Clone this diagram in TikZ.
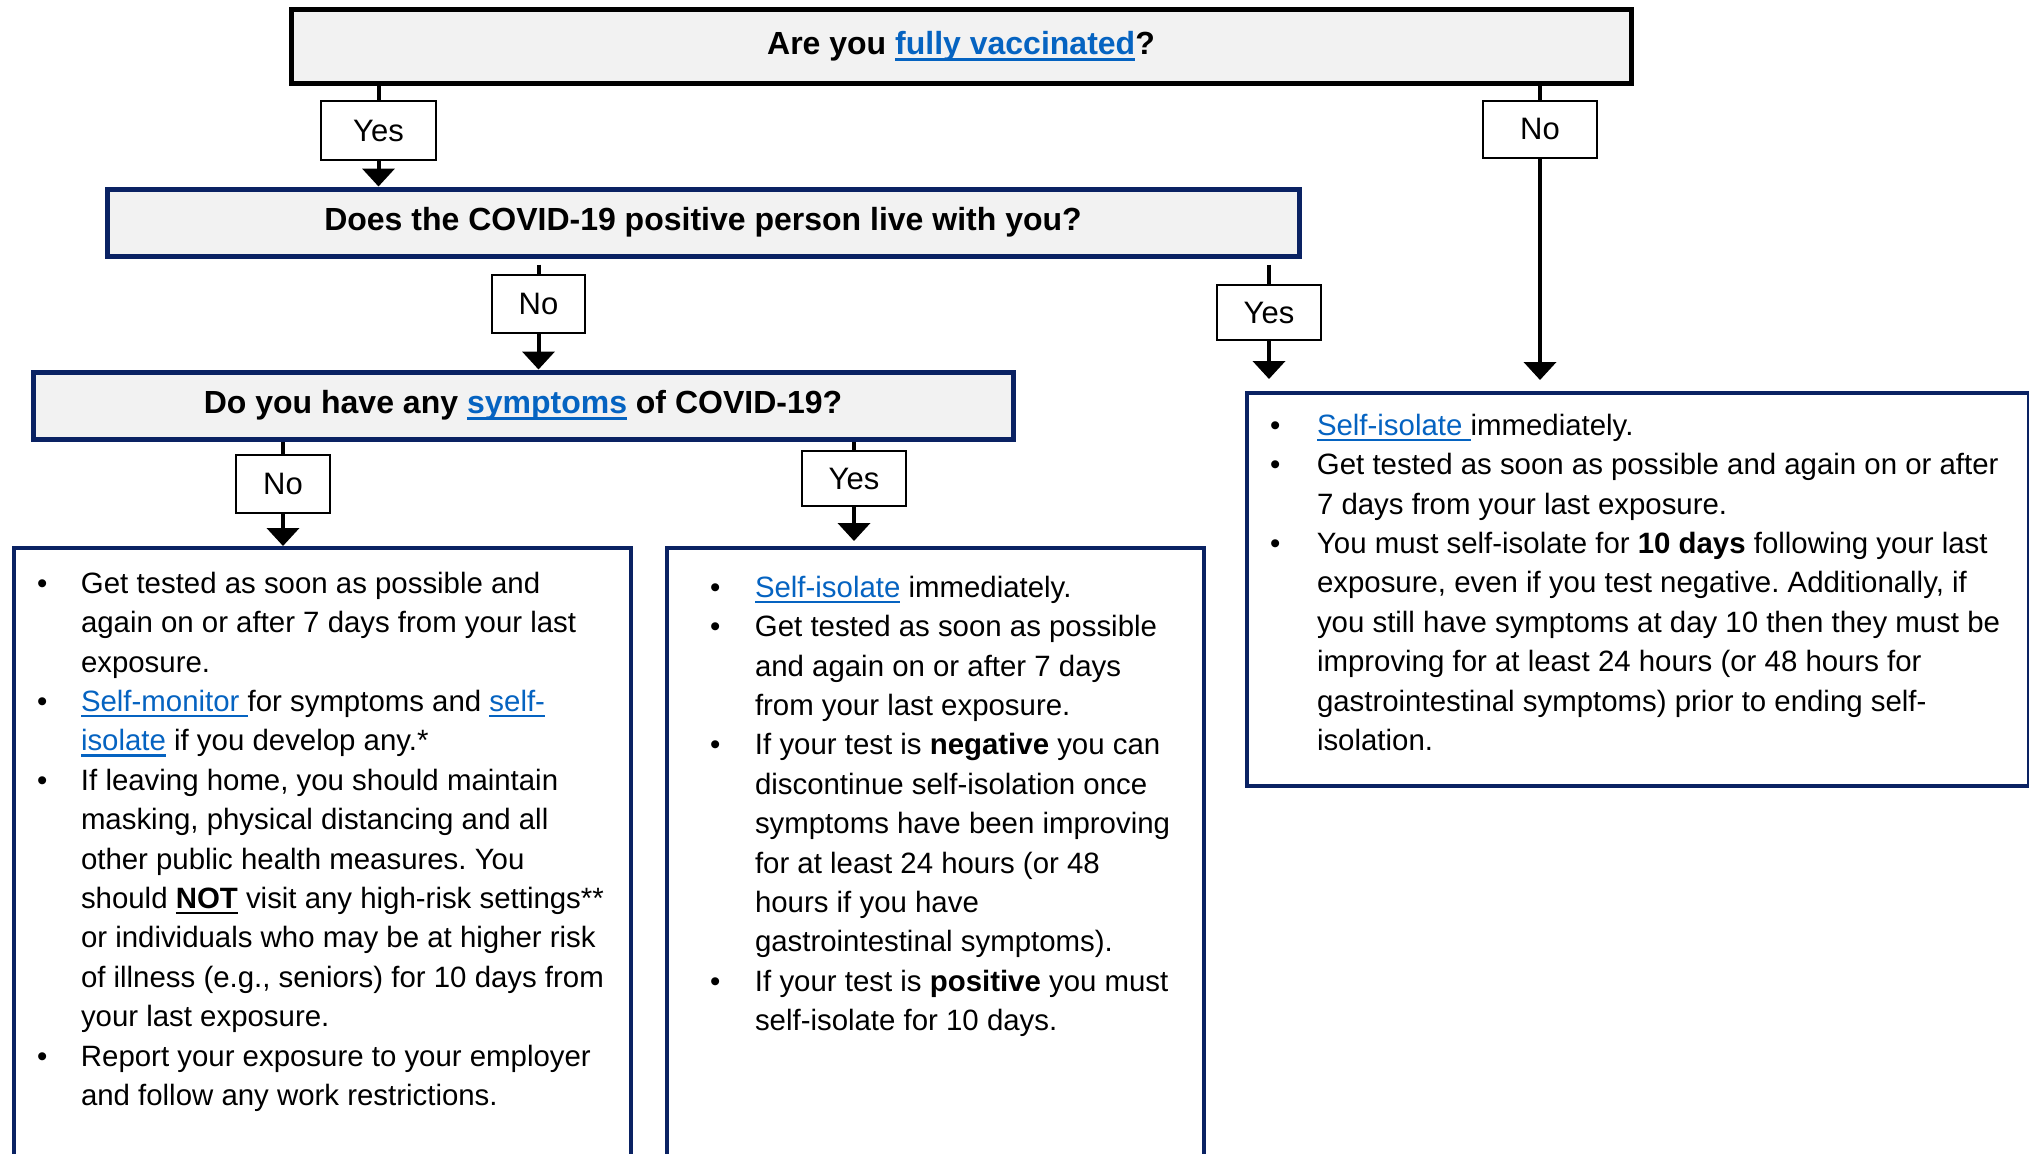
\documentclass[tikz,border=0pt]{standalone}
\usepackage{fontspec}
\setmainfont{Liberation Sans}
\usepackage{xcolor}
\usepackage{tikz}
\usetikzlibrary{arrows.meta,positioning}
\tikzset{>=stealth}

\definecolor{navy}{HTML}{0A2263}
\definecolor{linkblue}{HTML}{0563C1}
\definecolor{qgray}{HTML}{F2F2F2}

\newlength{\itemhang}
\setlength{\itemhang}{23pt}
\newcommand{\ulbox}[1]{\setbox0\hbox{#1}\rlap{\rule[-0.2em]{\wd0}{0.085em}}\box0}
\newcommand{\lnk}[1]{\textcolor{linkblue}{\ulbox{#1}}}
\newcommand{\bitem}[1]{\par\noindent\hangindent=\itemhang\hangafter=1\makebox[\itemhang][l]{\textbullet}#1}
\newcommand{\bodyfont}{\fontsize{14.7}{19.7}\selectfont\frenchspacing}

\begin{document}
\begin{tikzpicture}[
				x=0.5pt, y=-0.5pt,
				question/.style={rectangle, draw=navy, line width=2.5pt, fill=qgray,
					font=\fontsize{16}{19}\selectfont\bfseries},
				answer/.style={rectangle, draw=black, line width=1pt, fill=white,
					minimum height=28.5pt, inner sep=0pt, font=\fontsize{15.5}{18}\selectfont},
				panel/.style={rectangle, draw=navy, line width=2pt, fill=white,
					anchor=north west, inner sep=0pt, align=left},
				conn/.style={line width=2pt},
				arrow/.style={conn, -{Triangle[width=16pt,length=9pt]}}
				]
				
				% Frame of the page
				\useasboundingbox (0,0) rectangle (2029,1153);
				\clip (0,0) rectangle (2029,1153);
				
				% Row 1: Vaccination question
				\node[question, draw=black, minimum width=670pt, minimum height=37pt] (vacc) at (961,46)
				{Are you \lnk{fully vaccinated}?};
				\node[answer, minimum width=57.5pt, minimum height=29.5pt] (yes1) at (378.5,130.5) {Yes};
				\node[answer, minimum width=57pt] (no1) at (1540,129) {No};
				
				% Row 2: Household contact
				\node[question, minimum width=596pt, minimum height=33.5pt] (live) at (703,222.5)
				{Does the COVID-19 positive person live with you?};
				\node[answer, minimum width=46.5pt, minimum height=29pt] (no2) at (538.5,304) {No};
				\node[answer, minimum width=52pt, minimum height=27.5pt] (yes2) at (1269,312.5) {Yes};
				
				% Row 3: Symptoms
				\node[question, minimum width=490pt, minimum height=33.5pt] (symq) at (523,405.5)
				{Do you have any \lnk{symptoms} of COVID-19?};
				\node[answer, minimum width=47pt, minimum height=29pt] (no3) at (283,484) {No};
				\node[answer, minimum width=52pt, minimum height=27.5pt] (yes3) at (854,478.5) {Yes};
				
				% Row 4: Actions
				\node[panel] (iso) at (1245,391) {\parbox[t][196.5pt][t]{391pt}{\bodyfont\leftskip=11.5pt
						\setlength{\itemhang}{23.5pt}%
						\vspace*{10.5pt}%
						\bitem{\lnk{Self-isolate\ }immediately.}
						\bitem{Get tested as soon as possible and again on or after\newline
							7 days from your last exposure.}
						\bitem{You must self-isolate for \textbf{10 days} following your last\newline
							exposure, even if you test negative. Additionally, if\newline
							you still have symptoms at day 10 then they must be\newline
							improving for at least 24 hours (or 48 hours for\newline
							gastrointestinal symptoms) prior to ending self-\newline
							isolation.}\par}};
				
				\node[panel] (nosymp) at (12,546) {\parbox[t][312pt][t]{308.5pt}{\bodyfont\leftskip=11.5pt
						\setlength{\itemhang}{22pt}%
						\vspace*{12pt}%
						\bitem{Get tested as soon as possible and\newline
							again on or after 7 days from your last\newline
							exposure.}
						\bitem{\lnk{Self-monitor\ }for symptoms and \lnk{self-}\newline
							\lnk{isolate} if you develop any.*}
						\bitem{If leaving home, you should maintain\newline
							masking, physical distancing and all\newline
							other public health measures. You\newline
							should \textbf{\ulbox{NOT}} visit any high-risk settings**\newline
							or individuals who may be at higher risk\newline
							of illness (e.g., seniors) for 10 days from\newline
							your last exposure.}
						\bitem{Report your exposure to your employer\newline
							and follow any work restrictions.}\par}};
				
				\node[panel] (symp) at (665,546) {\parbox[t][312pt][t]{268.5pt}{\bodyfont\leftskip=21.5pt
						\setlength{\itemhang}{22.5pt}%
						\vspace*{14pt}%
						\bitem{\lnk{Self-isolate} immediately.}
						\bitem{Get tested as soon as possible\newline
							and again on or after 7 days\newline
							from your last exposure.}
						\bitem{If your test is \textbf{negative} you can\newline
							discontinue self-isolation once\newline
							symptoms have been improving\newline
							for at least 24 hours (or 48\newline
							hours if you have\newline
							gastrointestinal symptoms).}
						\bitem{If your test is \textbf{positive} you must\newline
							self-isolate for 10 days.}\par}};
				
				% Arrows
				\draw[conn] (yes1.north |- vacc.south) -- (yes1.north);
				\draw[arrow] (yes1.south) -- (yes1.south |- live.north);
				\draw[conn] (no1.north |- vacc.south) -- (no1.north);
				\draw[arrow, shorten >=5.5pt] (no1.south) -- (no1.south |- iso.north);
				\draw[conn, shorten <=3pt] (no2.north |- live.south) -- (no2.north);
				\draw[arrow] (no2.south) -- (no2.south |- symq.north);
				\draw[conn, shorten <=3pt] (yes2.north |- live.south) -- (yes2.north);
				\draw[arrow, shorten >=6pt] (yes2.south) -- (yes2.south |- iso.north);
				\draw[conn] (no3.north |- symq.south) -- (no3.north);
				\draw[arrow] (no3.south) -- (no3.south |- nosymp.north);
				\draw[conn] (yes3.north |- symq.south) -- (yes3.north);
				\draw[arrow, shorten >=2.5pt] (yes3.south) -- (yes3.south |- symp.north);
				
			\end{tikzpicture}
\end{document}
